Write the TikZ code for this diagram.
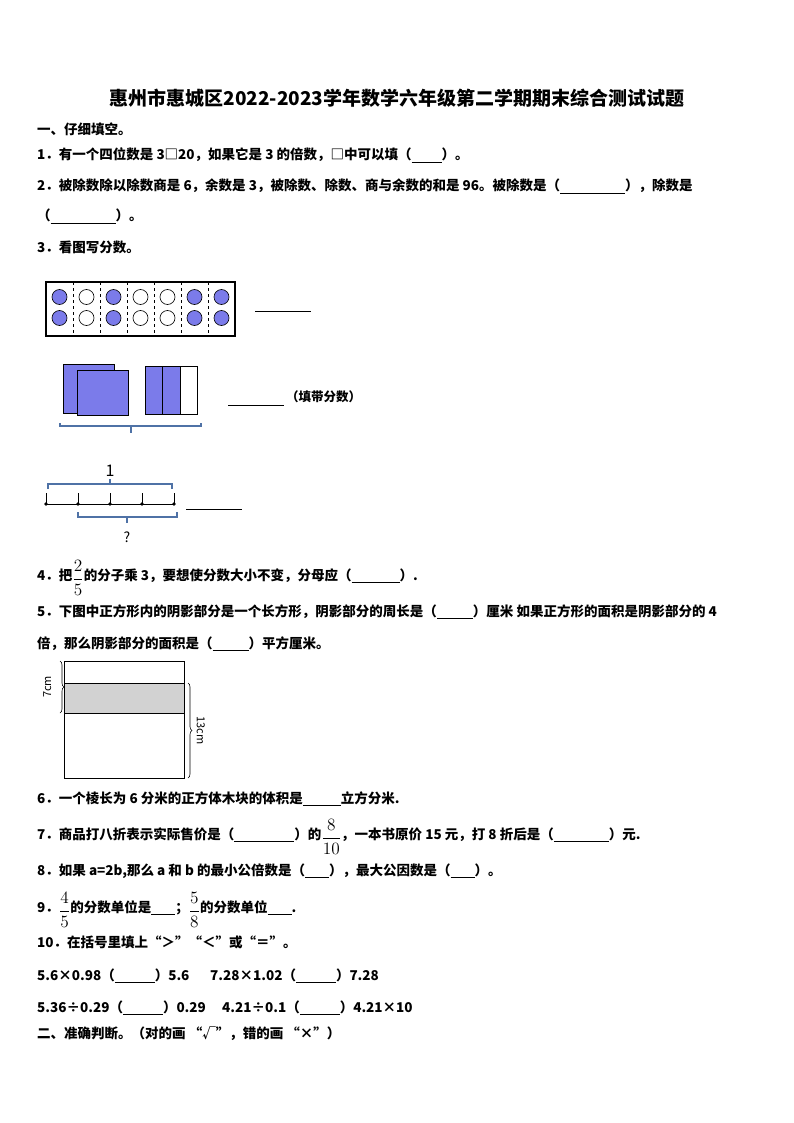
\documentclass[tikz,border=0pt]{standalone}
\usepackage{amsmath}
\usepackage{graphicx}
\usepackage{fontspec}
\setmainfont{Noto Sans CJK SC}
\usetikzlibrary{decorations.pathreplacing}
\definecolor{fillb}{HTML}{7B7BEA}
\definecolor{brc}{HTML}{4F72A6}
\newcommand{\blank}[1]{\underline{\hspace{#1pt}}}
\newcommand{\fr}[2]{\raisebox{-0.25em}{\scalebox{1.2}{\mdseries$\dfrac{#1}{#2}$}}}
\begin{document}
\begin{tikzpicture}[x=1pt,y=-1pt,
  txt/.style={anchor=base west,inner sep=0pt,font=\fontsize{13.5}{15}\selectfont\bfseries},
  fig/.style={draw=black,line width=0.8pt},
  dot/.style={circle,fill=black,inner sep=1.3pt}]
\useasboundingbox[fill=white] (0,0) rectangle (794,1123);
\node[anchor=base,inner sep=0pt,font=\fontsize{19}{21}\selectfont\bfseries] (title) at (397,106) {惠州市惠城区2022-2023学年数学六年级第二学期期末综合测试试题};
\node[txt] (s1) at (37,135) {一、仔细填空。};
\node[txt] (q1) at (37,160) {1．有一个四位数是 3□20，如果它是 3 的倍数，□中可以填（\blank{30}）。};
\node[txt] (q2) at (37,191) {2．被除数除以除数商是 6，余数是 3，被除数、除数、商与余数的和是 96。被除数是（\blank{65}），除数是};
\node[txt] (q2b) at (37,221) {（\blank{65}）。};
\node[txt] (q3) at (37,252) {3．看图写分数。};
% figure 1
\draw[fig,line width=1.2pt] (46,282) rectangle (235,336);
\foreach \i in {1,...,6} \draw[dashed,line width=0.6pt] (46+27*\i,282) -- (46+27*\i,336);
\foreach \i/\f in {0/1,1/0,2/1,3/0,4/0,5/1,6/1} {
  \ifnum\f=1
    \foreach \yy in {297,318} \draw[fill=fillb,line width=0.6pt] (59.5+27*\i,\yy) circle (7.5);
  \else
    \foreach \yy in {297,318} \draw[fill=white,line width=0.6pt] (59.5+27*\i,\yy) circle (7.5);
  \fi}
\draw[line width=0.8pt] (255,311) -- (311,311);
% figure 2
\draw[fig,fill=fillb] (63,364) rectangle (114,413);
\draw[fig,fill=fillb] (77,370) rectangle (128,415);
\draw[fig,fill=fillb] (145,366) rectangle (180,414);
\draw[fig] (162,366) -- (162,414);
\draw[fig,fill=white] (180,366) rectangle (197,414);
\draw[draw=brc,line width=1.2pt] (60,423) -- (60,426) -- (201,426) -- (201,423);
\draw[draw=brc,line width=1.2pt] (131,426) -- (131,433);
\draw[line width=0.8pt] (228,405) -- (284,405);
\node[txt,font=\fontsize{12.5}{14}\selectfont\bfseries] (fd) at (286,401) {（填带分数）};
% figure 3
\node[anchor=base,inner sep=0pt,font=\fontsize{16}{18}\selectfont] (one) at (110,476) {1};
\draw[draw=brc,line width=1.2pt] (48,489) -- (48,484) -- (172,484) -- (172,489);
\draw[draw=brc,line width=1.2pt] (110,484) -- (110,479);
\draw[line width=0.8pt] (46,504) -- (175,504);
\foreach \i in {0,...,4} {\draw[line width=0.8pt] (46+32*\i,493) -- (46+32*\i,504); \node[dot] at (46+32*\i,504) {};}
\draw[draw=brc,line width=1.2pt] (78,512) -- (78,517) -- (177,517) -- (177,512);
\draw[draw=brc,line width=1.2pt] (127,517) -- (127,523);
\node[anchor=base,inner sep=0pt,font=\fontsize{14}{16}\selectfont] (qm) at (127,542) {?};
\draw[line width=0.8pt] (186,509) -- (242,509);
% q4,q5
\node[txt] (q4) at (37,580) {4．把\fr{2}{5}的分子乘 3，要想使分数大小不变，分母应（\blank{48}）.};
\node[txt] (q5) at (37,616) {5．下图中正方形内的阴影部分是一个长方形，阴影部分的周长是（\blank{36}）厘米 如果正方形的面积是阴影部分的 4};
\node[txt] (q5b) at (37,648) {倍，那么阴影部分的面积是（\blank{36}）平方厘米。};
% figure 5
\draw[fill=gray!35,draw=none] (64,683) rectangle (184,713);
\draw[line width=0.6pt] (64,661) rectangle (184,778);
\draw[line width=0.6pt] (64,683) -- (184,683) (64,713) -- (184,713);
\draw[line width=0.6pt,decorate,decoration={brace,amplitude=4pt}] (60,661) -- (60,713) node[midway,left=5pt,rotate=90,anchor=south,font=\fontsize{11}{12}\selectfont] {7cm};
\draw[line width=0.6pt,decorate,decoration={brace,amplitude=4pt}] (188,683) -- (188,778) node[midway,xshift=5pt,rotate=-90,anchor=south,font=\fontsize{11}{12}\selectfont] {13cm};
% rest
\node[txt] (q6) at (37,803) {6．一个棱长为 6 分米的正方体木块的体积是\blank{38}立方分米.};
\node[txt] (q7) at (37,839) {7．商品打八折表示实际售价是（\blank{60}）的\fr{8}{10}，一本书原价 15 元，打 8 折后是（\blank{55}）元.};
\node[txt] (q8) at (37,875) {8．如果 a=2b,那么 a 和 b 的最小公倍数是（\blank{24}），最大公因数是（\blank{24}）。};
\node[txt] (q9) at (37,912) {9．\fr{4}{5}的分数单位是\blank{24}；\fr{5}{8}的分数单位\blank{24}.};
\node[txt] (q10) at (37,947) {10．在括号里填上“＞”“＜”或“＝”。};
\node[txt] (r1) at (37,980) {5.6×0.98（\blank{40}）5.6};
\node[txt] (r2) at (210,980) {7.28×1.02（\blank{40}）7.28};
\node[txt] (r3) at (37,1012) {5.36÷0.29（\blank{40}）0.29};
\node[txt] (r4) at (222,1012) {4.21÷0.1（\blank{40}）4.21×10};
\node[txt] (s2) at (37,1038) {二、准确判断。（对的画 “√”，错的画 “×”）};
\end{tikzpicture}
\end{document}
